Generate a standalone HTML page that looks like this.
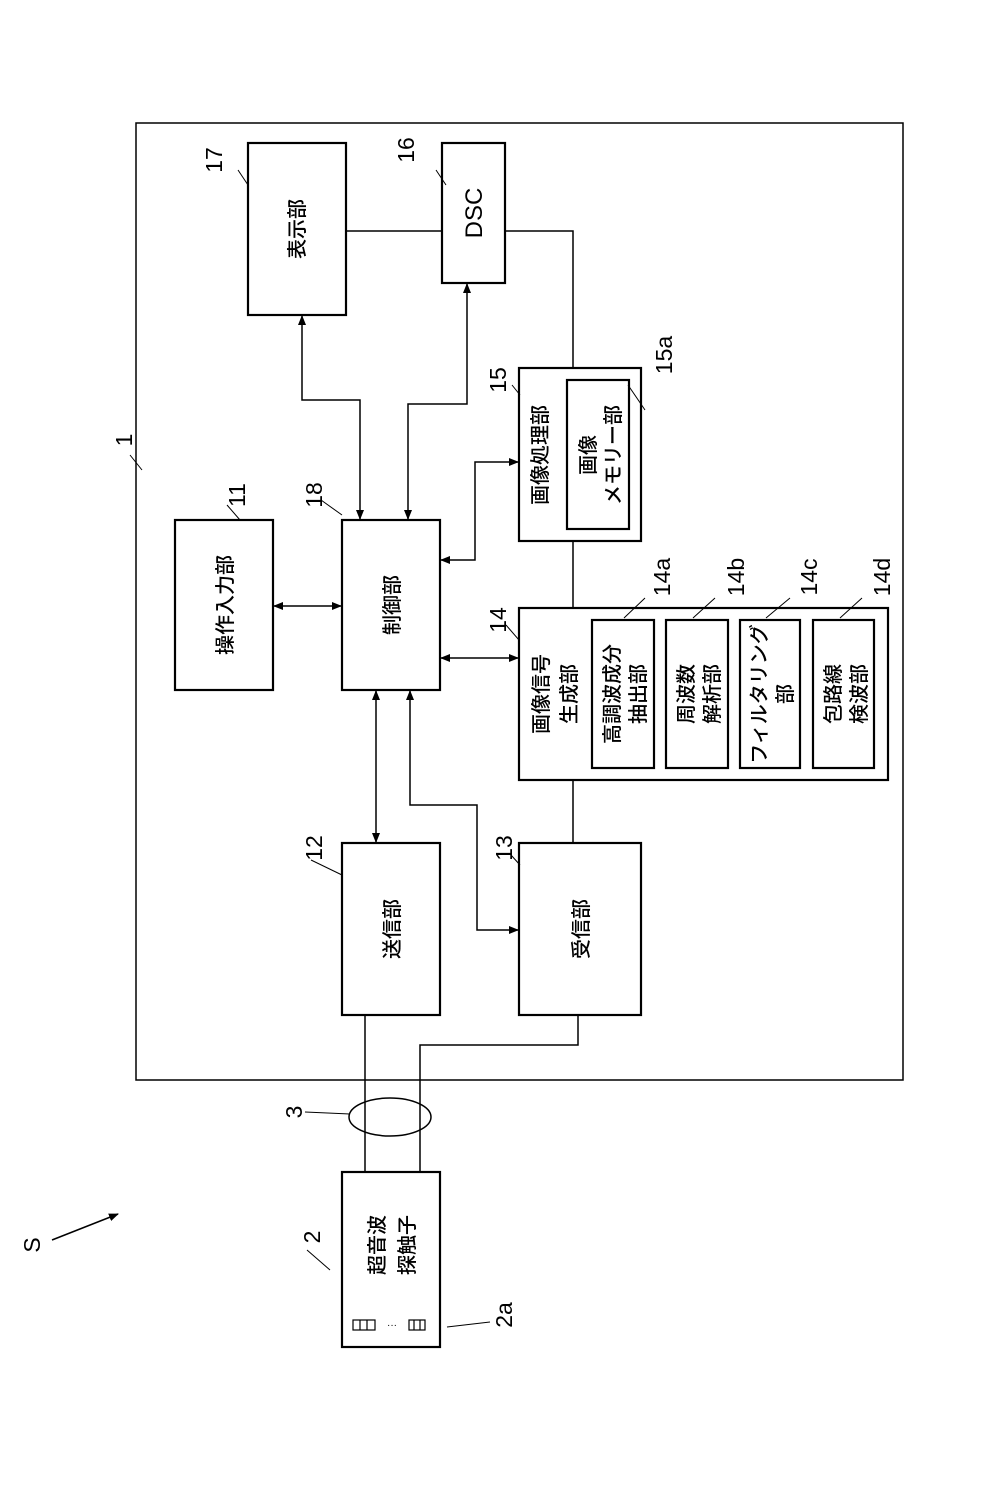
<!DOCTYPE html>
<html><head><meta charset="utf-8"><style>body{margin:0;background:#fff}svg{display:block}text{font-family:"Liberation Sans","Noto Sans CJK JP",sans-serif;fill:#000}</style></head><body>
<svg width="1008" height="1512" viewBox="0 0 1008 1512" xmlns="http://www.w3.org/2000/svg">
<defs><marker id="a" markerWidth="10" markerHeight="10" refX="9" refY="5" orient="auto-start-reverse" markerUnits="userSpaceOnUse"><path d="M0,1 L10,5 L0,9 Z" fill="#000"/></marker></defs>
<g fill="none" stroke="#000" stroke-width="1.5">
<rect x="136" y="123" width="767" height="957"/>
<rect x="248" y="143" width="98" height="172" stroke-width="2.2"/>
<rect x="442" y="143" width="63" height="140" stroke-width="2.2"/>
<rect x="519" y="368" width="122" height="173" stroke-width="2.2"/>
<rect x="567" y="380" width="62" height="149" stroke-width="2.2"/>
<rect x="519" y="608" width="369" height="172" stroke-width="2.2"/>
<rect x="592" y="620" width="62" height="148" stroke-width="2.2"/>
<rect x="666" y="620" width="62" height="148" stroke-width="2.2"/>
<rect x="740" y="620" width="60" height="148" stroke-width="2.2"/>
<rect x="813" y="620" width="61" height="148" stroke-width="2.2"/>
<rect x="519" y="843" width="122" height="172" stroke-width="2.2"/>
<rect x="342" y="843" width="98" height="172" stroke-width="2.2"/>
<rect x="342" y="520" width="98" height="170" stroke-width="2.2"/>
<rect x="175" y="520" width="98" height="170" stroke-width="2.2"/>
<rect x="342" y="1172" width="98" height="175" stroke-width="2.2"/>
<path d="M346,231H442M505,231H573V368M573,541V608M573,780V843M578,1015V1045H420V1172M365,1015V1172"/>
<path d="M274,606H341" marker-start="url(#a)" marker-end="url(#a)"/>
<path d="M360,519V400H302V316" marker-start="url(#a)" marker-end="url(#a)"/>
<path d="M408,519V404H467V284" marker-start="url(#a)" marker-end="url(#a)"/>
<path d="M441,560H475V462H518" marker-start="url(#a)" marker-end="url(#a)"/>
<path d="M441,658H518" marker-start="url(#a)" marker-end="url(#a)"/>
<path d="M376,691V842" marker-start="url(#a)" marker-end="url(#a)"/>
<path d="M410,691V805H477V930H518" marker-start="url(#a)" marker-end="url(#a)"/>
<ellipse cx="390" cy="1117" rx="41" ry="19"/>
<path d="M52,1240L118,1214" marker-end="url(#a)"/>
<g stroke-width="1"><path d="M130,455L142,470M238,170L248,185M436,170L446,185M227,505L240,520M321,500L342,515M512,385L520,395M506,625L519,640M511,855L520,865M311,860L342,875M645,410L628,385M624,618L645,598M693,618L715,598M766,618L790,598M840,618L862,598M305,1112L350,1114M307,1250L330,1270M447,1327L490,1322"/></g>
<g stroke-width="1.2"><rect x="353" y="1320" width="22" height="10"/><rect x="409" y="1320" width="16" height="10"/><path d="M360,1320V1330M367,1320V1330M414,1320V1330M420,1320V1330"/></g>
</g>
<text x="392" y="1328" font-size="10" text-anchor="middle">···</text>
<g font-size="20" font-weight="bold" style="font-weight:500">
<text transform="translate(304,229) rotate(-90)" text-anchor="middle">表示部</text>
<text transform="translate(482,213) rotate(-90)" text-anchor="middle" font-size="24">DSC</text>
<text transform="translate(547,455) rotate(-90)" text-anchor="middle">画像処理部</text>
<text transform="translate(595,455) rotate(-90)" text-anchor="middle">画像</text>
<text transform="translate(620,455) rotate(-90)" text-anchor="middle">メモリー部</text>
<text transform="translate(548,694) rotate(-90)" text-anchor="middle">画像信号</text>
<text transform="translate(576,694) rotate(-90)" text-anchor="middle">生成部</text>
<text transform="translate(619,694) rotate(-90)" text-anchor="middle">高調波成分</text>
<text transform="translate(645,694) rotate(-90)" text-anchor="middle">抽出部</text>
<text transform="translate(693,694) rotate(-90)" text-anchor="middle">周波数</text>
<text transform="translate(719,694) rotate(-90)" text-anchor="middle">解析部</text>
<text transform="translate(766,694) rotate(-90)" text-anchor="middle">フィルタリング</text>
<text transform="translate(792,694) rotate(-90)" text-anchor="middle">部</text>
<text transform="translate(840,694) rotate(-90)" text-anchor="middle">包路線</text>
<text transform="translate(866,694) rotate(-90)" text-anchor="middle">検波部</text>
<text transform="translate(399,605) rotate(-90)" text-anchor="middle">制御部</text>
<text transform="translate(232,605) rotate(-90)" text-anchor="middle">操作入力部</text>
<text transform="translate(399,929) rotate(-90)" text-anchor="middle">送信部</text>
<text transform="translate(588,929) rotate(-90)" text-anchor="middle">受信部</text>
<text transform="translate(384,1245) rotate(-90)" text-anchor="middle">超音波</text>
<text transform="translate(414,1245) rotate(-90)" text-anchor="middle">探触子</text>
</g>
<g font-size="23">
<text transform="translate(132,440) rotate(-90)" text-anchor="middle">1</text>
<text transform="translate(222,160) rotate(-90)" text-anchor="middle">17</text>
<text transform="translate(414,150) rotate(-90)" text-anchor="middle">16</text>
<text transform="translate(245,495) rotate(-90)" text-anchor="middle">11</text>
<text transform="translate(322,495) rotate(-90)" text-anchor="middle">18</text>
<text transform="translate(506,380) rotate(-90)" text-anchor="middle">15</text>
<text transform="translate(672,355) rotate(-90)" text-anchor="middle">15a</text>
<text transform="translate(506,620) rotate(-90)" text-anchor="middle">14</text>
<text transform="translate(670,577) rotate(-90)" text-anchor="middle">14a</text>
<text transform="translate(744,577) rotate(-90)" text-anchor="middle">14b</text>
<text transform="translate(817,577) rotate(-90)" text-anchor="middle">14c</text>
<text transform="translate(890,577) rotate(-90)" text-anchor="middle">14d</text>
<text transform="translate(322,848) rotate(-90)" text-anchor="middle">12</text>
<text transform="translate(512,848) rotate(-90)" text-anchor="middle">13</text>
<text transform="translate(302,1112) rotate(-90)" text-anchor="middle">3</text>
<text transform="translate(320,1237) rotate(-90)" text-anchor="middle">2</text>
<text transform="translate(512,1315) rotate(-90)" text-anchor="middle">2a</text>
<text transform="translate(40,1245) rotate(-90)" text-anchor="middle">S</text>
</g>
</svg>
</body></html>
